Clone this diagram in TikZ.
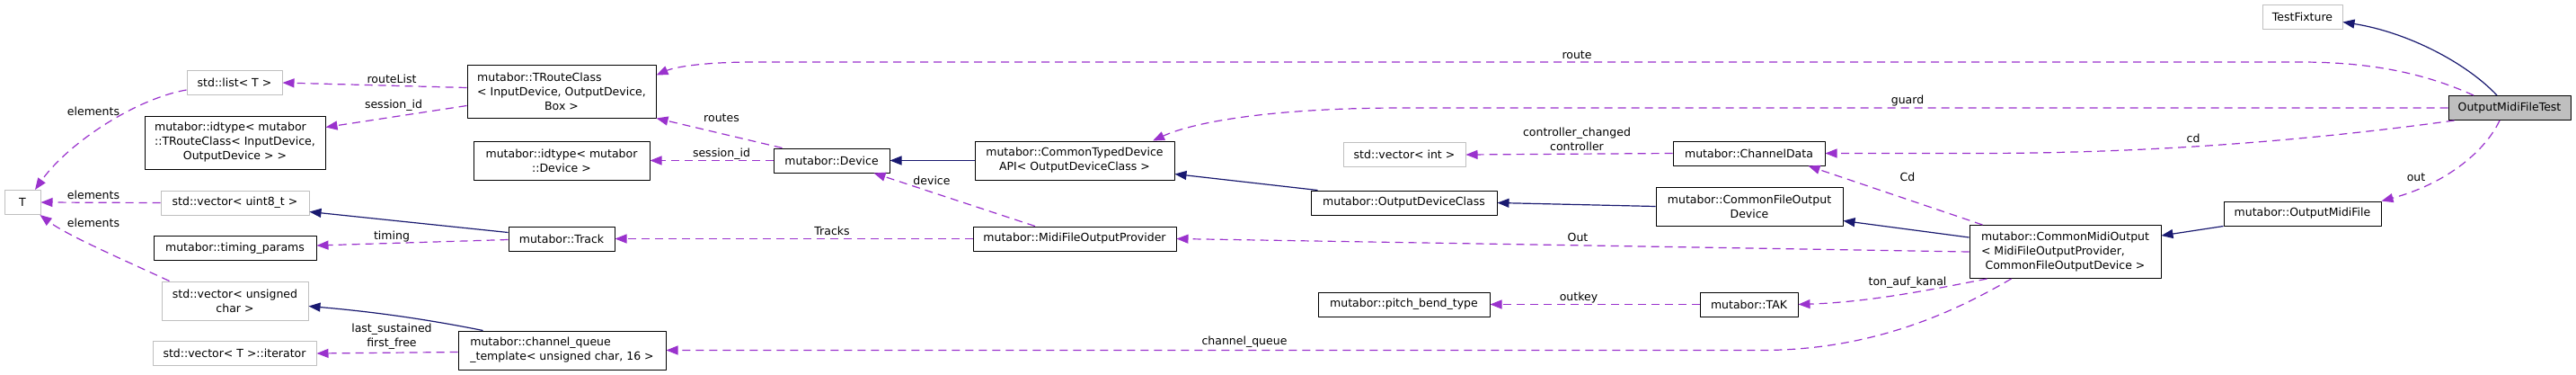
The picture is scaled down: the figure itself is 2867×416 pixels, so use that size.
\documentclass[tikz,border=0pt]{standalone}
\usepackage{fontspec}
\setmainfont{DejaVu Sans}
\usetikzlibrary{arrows.meta}

\newcommand{\dxfont}{\fontsize{12.5}{16}\selectfont}

\begin{document}
\begin{tikzpicture}[x=1pt,y=-1pt,line join=round,
  >={Triangle[length=13pt,width=10pt]},
  cls/.style={draw=black,line width=1pt,minimum height=27pt,inner xsep=6pt,
    inner ysep=2pt,align=center,font=\dxfont},
  ext/.style={cls,draw=gray75},
  lbl/.style={font=\dxfont,inner sep=0pt,align=center},
  use/.style={->,orchid,line width=1.2pt,dash pattern=on 9pt off 6pt},
  inh/.style={->,navy,line width=1.2pt}]
  \definecolor{orchid}{HTML}{9A32CD}
  \definecolor{navy}{HTML}{191970}
  \definecolor{gray75}{HTML}{BFBFBF}

  \fill[white] (0,0) rectangle (2867,416);
  \useasboundingbox (0,0) rectangle (2867,416);

  % classes, left column
  \node[ext,minimum width=40pt] (tt) at (25,225) {T};
  \node[ext,minimum width=106pt] (lst) at (261,92) {std::list< T >};
  \node[cls,align=left,minimum width=201pt,minimum height=59pt] (idtr) at (261.5,158.5)
    {mutabor::idtype< mutabor\\::TRouteClass< InputDevice,\\\hfill OutputDevice > >\hfill\null};
  \node[ext,minimum width=165pt] (vu8) at (261.5,225.5) {std::vector< uint8\_t >};
  \node[cls,minimum width=181pt] (tp) at (261.5,276) {mutabor::timing\_params};
  \node[ext,minimum width=163pt,minimum height=43pt] (vuc) at (261.5,334.5)
    {std::vector< unsigned\\char >};
  \node[ext,minimum width=182pt] (vit) at (261,393) {std::vector< T >::iterator};

  % second column
  \node[cls,align=left,minimum width=210pt,minimum height=59pt] (trc) at (625,101.5)
    {mutabor::TRouteClass\\< InputDevice, OutputDevice,\\\hfill Box >\hfill\null};
  \node[cls,minimum width=196pt,minimum height=43pt] (idd) at (625,178.5)
    {mutabor::idtype< mutabor\\::Device >};
  \node[cls,minimum width=118pt] (trk) at (625,265.5) {mutabor::Track};
  \node[cls,align=left,minimum width=231pt,minimum height=43pt] (cq) at (625.5,389.5)
    {mutabor::channel\_queue\\\_template< unsigned char, 16 >};

  % middle
  \node[cls,minimum width=129pt] (dev) at (925.5,178.5) {mutabor::Device};
  \node[cls,minimum width=222pt,minimum height=43pt] (ctd) at (1196,178.5)
    {mutabor::CommonTypedDevice\\API< OutputDeviceClass >};
  \node[cls,minimum width=226pt] (mfop) at (1196,265.5) {mutabor::MidiFileOutputProvider};
  \node[ext,minimum width=136pt] (vint) at (1563,172) {std::vector< int >};
  \node[cls,minimum width=207pt] (odc) at (1562.5,225.5) {mutabor::OutputDeviceClass};
  \node[cls,minimum width=191pt] (pbt) at (1562.5,338.5) {mutabor::pitch\_bend\_type};
  \node[cls,minimum width=169pt] (cdata) at (1946.5,170.5) {mutabor::ChannelData};
  \node[cls,minimum width=208pt,minimum height=43pt] (cfod) at (1947,229.5)
    {mutabor::CommonFileOutput\\Device};
  \node[cls,minimum width=109pt] (tak) at (1946.5,338.5) {mutabor::TAK};

  % right side
  \node[cls,align=left,minimum width=213pt,minimum height=59pt] (cmo) at (2298.5,280)
    {mutabor::CommonMidiOutput\\< MidiFileOutputProvider,\\\hfill CommonFileOutputDevice >\hfill\null};
  \node[cls,minimum width=175pt] (omf) at (2562.5,237.5) {mutabor::OutputMidiFile};
  \node[ext,minimum width=89pt] (testfix) at (2562.5,18.5) {TestFixture};
  \node[cls,fill=gray75,minimum width=136pt] (omft) at (2793,120) {OutputMidiFileTest};

  % inheritance
  \draw[inh] ([xshift=-14pt]omft.north) .. controls (2745,70) and (2680,36) .. ([yshift=-6pt]testfix.east);
  \draw[inh] (omf.south west) -- ([yshift=18pt]cmo.east);
  \draw[inh] ([yshift=16pt]cmo.west) -- ([yshift=-16pt]cfod.east);
  \draw[inh] (cfod.west) -- (odc.east);
  \draw[inh] ([xshift=8pt]odc.north west) -- ([yshift=-15pt]ctd.east);
  \draw[inh] (ctd.west) -- (dev.east);
  \draw[inh] ([yshift=7pt]trk.west) -- ([yshift=-10pt]vu8.east);
  \draw[inh] ([xshift=28pt]cq.north west) .. controls (480,356) and (420,347) .. ([yshift=-6pt]vuc.east);

  % members of OutputMidiFileTest
  \draw[use] ([xshift=-40pt]omft.north) .. controls (2700,82) and (2640,69) .. (2560,69)
    -- (840,69) .. controls (780,69) and (750,75) .. ([yshift=18pt]trc.east);
  \draw[use] (omft.west) -- (1560,120) .. controls (1420,120) and (1330,135) .. ([xshift=87pt]ctd.north);
  \draw[use] ([xshift=7pt]omft.south west) .. controls (2600,152) and (2420,170.5) .. (2200,170.5) -- (cdata.east);
  \draw[use] ([xshift=-11pt]omft.south) .. controls (2765,170) and (2720,205) .. (omf.north east);

  % members of CommonMidiOutput
  \draw[use] ([xshift=15pt]cmo.north west) -- ([xshift=66pt]cdata.south);
  \draw[use] (cmo.west) -- (mfop.east);
  \draw[use] ([xshift=20pt]cmo.south west) .. controls (2150,322) and (2080,336) .. (tak.east);
  \draw[use] ([xshift=-60pt]cmo.south) .. controls (2170,350) and (2080,389.5) .. (1960,389.5) -- (cq.east);

  % the rest
  \draw[use] (cdata.west) -- (vint.east);
  \draw[use] (tak.west) -- (pbt.east);
  \draw[use] ([xshift=-44pt]mfop.north) -- ([xshift=47pt]dev.south);
  \draw[use] (mfop.west) -- (trk.east);
  \draw[use] ([xshift=10pt]dev.north west) -- (trc.south east);
  \draw[use] (dev.west) -- (idd.east);
  \draw[use] ([yshift=4pt]trc.west) -- (lst.east);
  \draw[use] ([yshift=-16pt]trc.west) -- ([yshift=17pt]idtr.east);
  \draw[use] ([yshift=-1pt]trk.west) -- ([yshift=3pt]tp.east);
  \draw[use] ([yshift=-2pt]cq.west) -- (vit.east);
  \draw[use] ([yshift=-8pt]lst.west) .. controls (150,110) and (75,160) .. ([xshift=14pt]tt.north);
  \draw[use] (vu8.west) -- (tt.east);
  \draw[use] ([xshift=9pt]vuc.north west) .. controls (140,290) and (75,262) .. ([xshift=-1pt]tt.south east);

  % edge labels
  \node[lbl] (lroute) at (1755,61) {route};
  \node[lbl] (lguard) at (2123,112) {guard};
  \node[lbl] (lcd) at (2441,154) {cd};
  \node[lbl] (lout) at (2689,197) {out};
  \node[lbl] (lcdata) at (2123,197) {Cd};
  \node[lbl] (lmfop) at (1756,264) {Out};
  \node[lbl] (ltak) at (2123,314) {ton\_auf\_kanal};
  \node[lbl] (lcq) at (1385,380) {channel\_queue};
  \node[lbl] (lctrl) at (1755,155) {controller\_changed\\controller};
  \node[lbl] (loutkey) at (1757,331) {outkey};
  \node[lbl] (ldevice) at (1037,201) {device};
  \node[lbl] (ltracks) at (926,257) {Tracks};
  \node[lbl] (lroutes) at (803,131) {routes};
  \node[lbl] (lsiddev) at (803,171) {session\_id};
  \node[lbl] (lroutelist) at (436,88) {routeList};
  \node[lbl] (lsidtrc) at (438,117) {session\_id};
  \node[lbl] (ltiming) at (436,263) {timing};
  \node[lbl] (lsust) at (436,374.5) {last\_sustained\\first\_free};
  \node[lbl] (lelem1) at (104,124) {elements};
  \node[lbl] (lelem2) at (104,217) {elements};
  \node[lbl] (lelem3) at (104,248) {elements};
\end{tikzpicture}
\end{document}
